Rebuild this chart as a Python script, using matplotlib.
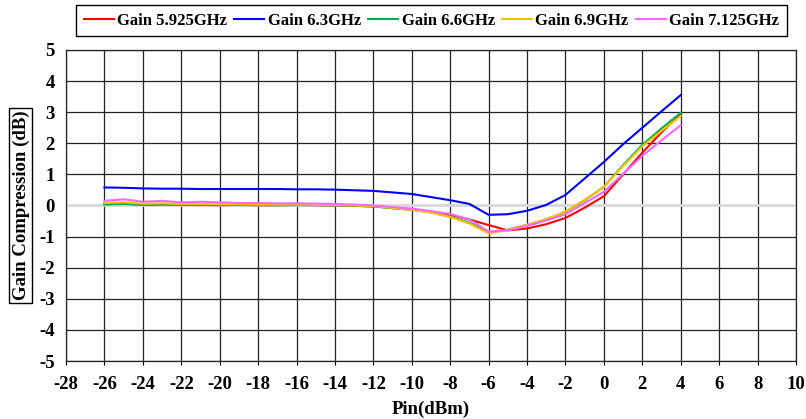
import matplotlib.pyplot as plt

# Pin sweep (dBm) and gain compression (dB) per frequency
pin = list(range(-26, 5))

gain_5925 = [0.05, 0.06, 0.03, 0.04, 0.03, 0.02, 0.01, 0.02, 0.01, 0.01,
             0.02, 0.01, 0.00, -0.01, -0.03, -0.07, -0.13, -0.20, -0.30, -0.45,
             -0.63, -0.80, -0.74, -0.60, -0.40, -0.07, 0.30, 1.00, 1.70, 2.35, 2.95]
gain_63 = [0.58, 0.57, 0.55, 0.54, 0.54, 0.53, 0.53, 0.53, 0.53, 0.53,
           0.52, 0.52, 0.51, 0.49, 0.47, 0.42, 0.37, 0.27, 0.17, 0.05,
           -0.30, -0.28, -0.17, 0.02, 0.34, 0.87, 1.40, 1.97, 2.50, 3.03, 3.55]
gain_66 = [0.03, 0.05, 0.02, 0.03, 0.02, 0.02, 0.01, 0.02, 0.01, 0.01,
           0.01, 0.01, 0.00, -0.01, -0.03, -0.09, -0.14, -0.22, -0.36, -0.55,
           -0.86, -0.78, -0.62, -0.45, -0.20, 0.17, 0.60, 1.30, 1.95, 2.48, 2.98]
gain_69 = [0.08, 0.10, 0.06, 0.07, 0.05, 0.05, 0.04, 0.04, 0.03, 0.03,
           0.03, 0.02, 0.01, 0.00, -0.02, -0.08, -0.14, -0.23, -0.37, -0.58,
           -0.90, -0.79, -0.62, -0.44, -0.19, 0.18, 0.60, 1.27, 1.90, 2.40, 2.88]
gain_7125 = [0.15, 0.20, 0.12, 0.15, 0.10, 0.12, 0.10, 0.08, 0.08, 0.07,
             0.07, 0.06, 0.05, 0.03, 0.00, -0.05, -0.10, -0.18, -0.27, -0.45,
             -0.84, -0.80, -0.66, -0.48, -0.28, 0.08, 0.44, 1.02, 1.60, 2.10, 2.58]

series = [
    ('Gain 5.925GHz', gain_5925, '#ff0000'),
    ('Gain 6.3GHz', gain_63, '#0000ff'),
    ('Gain 6.6GHz', gain_66, '#00b050'),
    ('Gain 6.9GHz', gain_69, '#ffc000'),
    ('Gain 7.125GHz', gain_7125, '#ff66ff'),
]

plt.rcParams['font.family'] = ['Liberation Serif', 'DejaVu Serif']
plt.rcParams['font.weight'] = 'bold'
plt.rcParams['axes.unicode_minus'] = False

fig = plt.figure(figsize=(8.06, 4.19), dpi=100)
ax = fig.add_axes([66 / 806, 58 / 419, 730 / 806, 311 / 419])

for label, vals, color in series:
    ax.plot(pin, vals, color=color, lw=1.5, label=label)

ax.set_xlim(-28, 10)
ax.set_ylim(-5, 5)
ax.set_xticks(range(-28, 11, 2))
ax.set_yticks(range(-5, 6))
ax.grid(True, color='#222222', lw=0.9)
ax.axhline(0, color='#d9d9d9', lw=2, zorder=1)
ax.set_axisbelow(True)
for sp in ax.spines.values():
    sp.set_color('#222222')
    sp.set_linewidth(0.9)

ax.tick_params(axis='x', length=3, labelsize=13.5, pad=8)
ax.tick_params(axis='y', length=0, labelsize=13.5, pad=8)
for t in ax.get_xticklabels() + ax.get_yticklabels():
    t.set_fontweight('bold')

ax.set_xlabel('Pin(dBm)', fontsize=13.5, fontweight='bold', labelpad=5)
ax.set_ylabel('Gain Compression (dB)', fontsize=13.5, fontweight='bold', labelpad=7,
              bbox=dict(boxstyle='square,pad=0.15', fc='white', ec='black', lw=1))

leg = fig.legend(loc='center', ncol=5, mode='expand',
                 bbox_to_anchor=(68 / 806, 1 - 37 / 419, 727 / 806, 32 / 419),
                 prop={'weight': 'bold', 'size': 12}, handlelength=1.8,
                 handletextpad=0.2, fancybox=False, edgecolor='black', framealpha=1,
                 borderpad=0.45)
leg.get_frame().set_linewidth(1)

fig.savefig('out.png', dpi=100)
